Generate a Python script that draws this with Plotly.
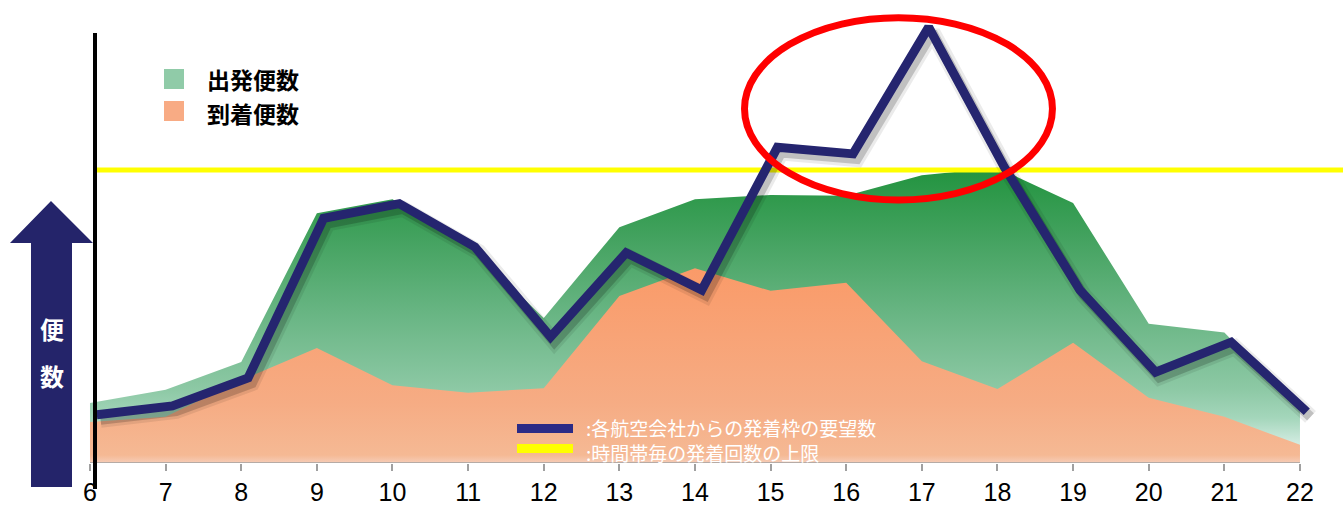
import plotly.graph_objects as go

# Hourly flight counts (hour of day 6..22)
hours = [6, 7, 8, 9, 10, 11, 12, 13, 14, 15, 16, 17, 18, 19, 20, 21, 22]
arrivals = [5.6, 6.3, 11.3, 15.7, 10.6, 9.6, 10.2, 22.8, 26.6, 23.5, 24.6, 13.9, 10.1, 16.4, 8.9, 6.3, 2.5]
departures = [2.6, 3.7, 2.5, 18.4, 25.4, 20.2, 9.6, 9.4, 9.4, 13.1, 11.9, 25.4, 30.2, 19.1, 10.1, 11.5, 4.8]
requested_slots = [6.6, 7.8, 11.6, 33.4, 35.4, 29.5, 17.2, 28.7, 23.6, 43.1, 42.2, 59.5, 40.4, 23.6, 12.4, 16.5, 7.0]
capacity = 40.0

tick_labels = [str(h) for h in hours]
legend_area_labels = ["出発便数", "到着便数"]
legend_line_labels = [":各航空会社からの発着枠の要望数", ":時間帯毎の発着回数の上限"]
axis_title_chars = ["便", "数"]

# Canvas geometry
W, H = 1343, 506
MARGIN_B = 43
PLOT_H = H - MARGIN_B
X_RANGE = [4.810, 22.569]
Y_RANGE = [0, 63.21]

NAVY = "#25256f"
GREEN_KEY = "#90cba8"
ORANGE_KEY = "#f8ab84"


def paper_x(px):
    return px / W


def paper_y(py):
    return (PLOT_H - py) / PLOT_H


totals = [a + d for a, d in zip(arrivals, departures)]
line_shift = 0.09  # requested-slot line sits slightly right of the hour marks
line_x = [h + line_shift for h in hours]
shadow_x = [x + 0.05 for x in line_x]
shadow_y = [v - 0.7 for v in requested_slots]

fig = go.Figure()

# Departures stacked above arrivals (green), drawn as total height
fig.add_trace(go.Scatter(
    x=hours, y=totals, mode="lines", line=dict(width=0, color="rgba(0,0,0,0)"),
    fill="tozeroy",
    fillgradient=dict(
        type="vertical", start=0, stop=41,
        colorscale=[[0, "#e0f3f3"], [0.07, "#cfeadf"], [0.15, "#a4d6bb"],
                    [0.25, "#8cc8a4"], [0.5, "#68b583"], [0.75, "#43a25f"],
                    [1, "#1f923c"]],
    ),
    hoverinfo="skip", showlegend=False,
))

# Arrivals (orange)
fig.add_trace(go.Scatter(
    x=hours, y=arrivals, mode="lines", line=dict(width=0, color="rgba(0,0,0,0)"),
    fill="tozeroy",
    fillgradient=dict(
        type="vertical", start=0, stop=27,
        colorscale=[[0, "#f6cdb8"], [0.04, "#f5b994"], [0.3, "#f6ac84"],
                    [1, "#fa9a68"]],
    ),
    hoverinfo="skip", showlegend=False,
))

# Hourly movement cap
fig.add_trace(go.Scatter(
    x=[6.066, X_RANGE[1]], y=[capacity, capacity], mode="lines",
    line=dict(color="#ffff00", width=5), hoverinfo="skip", showlegend=False,
))

# Soft shadow under the requested-slot line
fig.add_trace(go.Scatter(
    x=shadow_x, y=shadow_y, mode="lines",
    line=dict(color="rgba(0,0,0,0.08)", width=16), hoverinfo="skip", showlegend=False,
))
fig.add_trace(go.Scatter(
    x=shadow_x, y=shadow_y, mode="lines",
    line=dict(color="rgba(0,0,0,0.18)", width=10), hoverinfo="skip", showlegend=False,
))

# Requested slots from airlines
fig.add_trace(go.Scatter(
    x=line_x, y=requested_slots, mode="lines",
    line=dict(color=NAVY, width=9), hoverinfo="skip", showlegend=False,
))

shapes = [
    # baseline of the hour axis
    dict(type="line", xref="x", yref="y", x0=6, x1=22, y0=0, y1=0,
         line=dict(color="#a0a0a0", width=1.5)),
    # vertical axis bar
    dict(type="line", xref="paper", yref="paper", x0=paper_x(95), x1=paper_x(95),
         y0=paper_y(33), y1=paper_y(489), line=dict(color="black", width=4)),
    # highlight ellipse around the peak
    dict(type="circle", xref="x", yref="y", x0=14.655, x1=18.727, y0=35.9, y1=60.8,
         line=dict(color="#ff0000", width=7), layer="above"),
    # legend keys for the areas
    dict(type="rect", xref="paper", yref="paper", x0=paper_x(164), x1=paper_x(184),
         y0=paper_y(89), y1=paper_y(69), fillcolor=GREEN_KEY, line=dict(width=0)),
    dict(type="rect", xref="paper", yref="paper", x0=paper_x(164), x1=paper_x(184),
         y0=paper_y(121), y1=paper_y(101), fillcolor=ORANGE_KEY, line=dict(width=0)),
    # legend keys for the lines
    dict(type="rect", xref="paper", yref="paper", x0=paper_x(517), x1=paper_x(573),
         y0=paper_y(433), y1=paper_y(424), fillcolor="#2b2b86", line=dict(width=0)),
    dict(type="rect", xref="paper", yref="paper", x0=paper_x(517), x1=paper_x(573),
         y0=paper_y(453), y1=paper_y(444), fillcolor="#ffff00", line=dict(width=0)),
]

# Up arrow next to the vertical axis
arrow_pts = [(31, 487), (31, 243), (10, 243), (51, 201), (93, 243), (72, 243), (72, 487)]
path = "M " + " L ".join(f"{paper_x(px):.5f},{paper_y(py):.5f}" for px, py in arrow_pts) + " Z"
shapes.append(dict(type="path", xref="paper", yref="paper", path=path,
                   fillcolor="#24246a", line=dict(width=0), layer="below"))

jp = "Noto Sans CJK JP"
annotations = [
    # line legend, two lines in one block
    dict(text="<br>".join(legend_line_labels),
         xref="paper", yref="paper", x=paper_x(584), y=paper_y(440),
         xanchor="left", yanchor="middle", align="left", showarrow=False,
         font=dict(family=jp, size=19, color="white")),
]
# area legend labels
for label, py in zip(legend_area_labels, [79, 113]):
    annotations.append(dict(
        text=f"<b>{label}</b>", xref="paper", yref="paper", x=paper_x(205), y=paper_y(py),
        xanchor="left", yanchor="middle", showarrow=False,
        font=dict(family=jp, size=23, color="black")))
for ch, py in zip(axis_title_chars, [328, 375]):
    annotations.append(dict(
        text=f"<b>{ch}</b>", xref="paper", yref="paper", x=paper_x(52), y=paper_y(py),
        xanchor="center", yanchor="middle", showarrow=False,
        font=dict(family=jp, size=24, color="white")))

fig.update_layout(
    width=W, height=H,
    margin=dict(l=0, r=0, t=0, b=MARGIN_B, pad=0),
    paper_bgcolor="white", plot_bgcolor="white",
    shapes=shapes, annotations=annotations,
    xaxis=dict(range=X_RANGE, tickmode="array", tickvals=hours, ticktext=tick_labels,
               ticks="outside", ticklen=7, tickwidth=1.5, tickcolor="#a0a0a0",
               showline=False, showgrid=False, zeroline=False,
               tickfont=dict(family="Liberation Sans", size=25, color="black"),
               fixedrange=True),
    yaxis=dict(range=Y_RANGE, showticklabels=False, ticks="", showline=False,
               showgrid=False, zeroline=False, fixedrange=True),
    showlegend=False,
)

fig.write_html("out.html")
